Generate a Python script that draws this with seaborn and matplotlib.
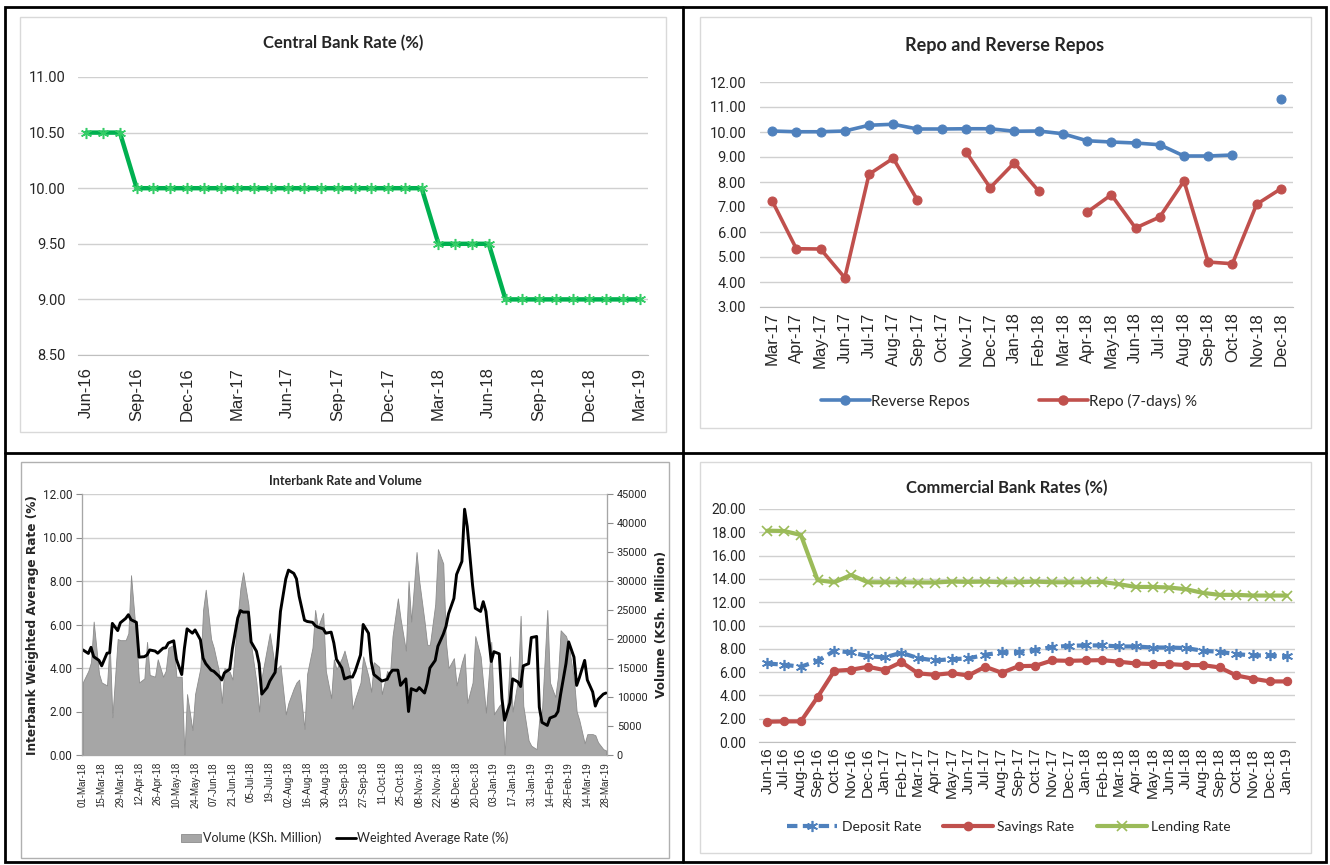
import numpy as np
import pandas as pd
import matplotlib
matplotlib.use("Agg")
import matplotlib.pyplot as plt
from matplotlib.lines import Line2D
from matplotlib.patches import Rectangle, Patch
import matplotlib.dates as mdates
import seaborn as sns

# ---------------- data ----------------
# Central Bank Rate (%), monthly Jun-16 .. Mar-19
cbr_months = pd.date_range("2016-06-01", periods=34, freq="MS").strftime("%b-%y")
cbr_rate = [10.5, 10.5, 10.5,
            10.0, 10.0, 10.0, 10.0, 10.0, 10.0, 10.0, 10.0, 10.0,
            10.0, 10.0, 10.0, 10.0, 10.0, 10.0, 10.0, 10.0, 10.0,
            9.5, 9.5, 9.5, 9.5,
            9.0, 9.0, 9.0, 9.0, 9.0, 9.0, 9.0, 9.0, 9.0]

# Repo and reverse repo, monthly Mar-17 .. Dec-18 (nan = no operation)
repo_months = pd.date_range("2017-03-01", periods=22, freq="MS").strftime("%b-%y")
reverse_repo = [10.04, 10.01, 10.01, 10.04, 10.27, 10.31, 10.12, 10.12, 10.13, 10.13, 10.03,
                10.04, 9.93, 9.65, 9.60, 9.56, 9.49, 9.04, 9.04, 9.08, np.nan, 11.32]
repo_7day = [7.25, 5.33, 5.32, 4.17, 8.31, 8.95, 7.27, np.nan, 9.21, 7.77, 8.77,
             7.64, np.nan, 6.79, 7.49, 6.16, 6.60, 8.04, 4.80, 4.73, 7.11, 7.73]

# Interbank, every second business day 01-Mar-18 .. 28-Mar-19
ib_dates = pd.bdate_range("2018-03-01", "2019-03-28")[::2]
ib_rate = [4.83, 4.67, 4.95, 4.52, 4.35, 4.10, 4.68, 4.70, 6.05, 5.72,
           6.08, 6.28, 6.45, 6.22, 6.10, 4.50, 4.52, 4.60, 4.83, 4.78,
           4.68, 4.91, 4.93, 5.15, 5.25, 4.40, 3.70, 4.90, 5.80, 5.60,
           5.75, 5.30, 4.45, 4.20, 3.90, 3.85, 3.62, 3.45, 3.78, 3.95,
           4.90, 6.30, 6.64, 6.57, 6.57, 5.20, 4.77, 4.20, 2.80, 3.10,
           3.40, 3.80, 5.00, 6.60, 8.10, 8.50, 8.35, 8.10, 7.30, 6.20,
           6.14, 6.10, 5.95, 5.88, 5.80, 5.60, 5.65, 5.15, 4.40, 4.00,
           3.50, 3.60, 3.58, 3.85, 4.60, 6.00, 5.60, 4.30, 3.70, 3.50,
           3.40, 3.48, 3.75, 3.90, 3.90, 3.20, 3.50, 2.00, 3.05, 2.95,
           3.10, 2.85, 3.30, 4.00, 4.35, 5.00, 5.55, 5.90, 6.50, 7.20,
           8.30, 8.90, 11.30, 10.50, 7.80, 6.75, 6.60, 7.05, 6.60, 4.30,
           4.75, 4.65, 2.60, 1.60, 2.40, 3.50, 3.36, 3.15, 4.10, 4.20,
           5.40, 5.45, 2.20, 1.50, 1.36, 1.70, 1.80, 2.00, 2.80, 4.20,
           5.20, 4.50, 3.20, 3.55, 4.35, 3.45, 2.90, 2.25, 2.55, 2.80,
           2.85]
ib_volume = [12600, 14500, 16000, 23000, 14000, 12500, 12000, 19500, 6500, 20000,
             19800, 19800, 21000, 31000, 20000, 12500, 13200, 19500, 13800, 13500,
             16500, 13500, 14500, 18500, 19000, 13500, 13500, 0, 10500, 4300,
             10500, 15000, 25000, 28500, 20000, 18500, 14300, 9000, 15000, 14300,
             13000, 24000, 28800, 31500, 25900, 19000, 12500, 7500, 13500, 18500,
             21000, 15000, 15000, 15500, 7000, 9000, 11500, 12500, 13000, 4500,
             14000, 18500, 25000, 22000, 24500, 14500, 9800, 16500, 14800, 16700,
             18000, 14300, 8000, 9700, 12500, 17000, 13500, 10900, 16000, 15200,
             10500, 14500, 13500, 20500, 27000, 23500, 18000, 30000, 23000, 35000,
             30000, 23000, 19000, 19000, 26000, 35500, 33000, 19500, 15000, 16700,
             12000, 16000, 17500, 9000, 12500, 20500, 17000, 12200, 7300, 19500,
             7000, 8500, 9000, 0, 17000, 7500, 13000, 24000, 8500, 2500,
             1600, 1000, 6200, 7500, 25000, 12500, 10000, 13500, 21500, 20500,
             19000, 13000, 7500, 6000, 2000, 3600, 3600, 3400, 2200, 1000,
             800]
ib_ticks = pd.date_range("2018-03-01", "2019-03-28", freq="14D")

# Commercial bank rates (%), monthly Jun-16 .. Jan-19
cb_months = pd.date_range("2016-06-01", periods=32, freq="MS").strftime("%b-%y")
deposit_rate = [6.74, 6.63, 6.46, 6.97, 7.83, 7.69, 7.37, 7.26, 7.66, 7.20, 7.00,
                7.11, 7.17, 7.49, 7.69, 7.71, 7.91, 8.14, 8.26, 8.29, 8.29, 8.20,
                8.20, 8.11, 8.11, 8.06, 7.83, 7.74, 7.54, 7.43, 7.43, 7.34]
savings_rate = [1.74, 1.77, 1.77, 3.86, 6.11, 6.20, 6.46, 6.17, 6.86, 5.89, 5.77,
                5.91, 5.71, 6.46, 5.94, 6.51, 6.54, 7.00, 6.97, 7.00, 7.03, 6.89,
                6.74, 6.69, 6.69, 6.60, 6.60, 6.40, 5.71, 5.43, 5.20, 5.20]
lending_rate = [18.14, 18.11, 17.77, 13.89, 13.71, 14.34, 13.71, 13.71, 13.71, 13.69, 13.69,
                13.77, 13.74, 13.77, 13.71, 13.71, 13.77, 13.71, 13.71, 13.71, 13.74, 13.54,
                13.31, 13.31, 13.26, 13.11, 12.80, 12.63, 12.63, 12.57, 12.57, 12.57]

# ---------------- style ----------------
sns.set_style("white")
plt.rcParams["font.family"] = ["Lato", "DejaVu Sans"]

BLUE, RED, GREEN, LGREEN = "#4F81BD", "#C0504D", "#00B050", "#9BBB59"
GRID, AXIS = "#D0D0D0", "#BFBFBF"
STAR = (6, 2, 0)
NUM_FONT = "Roboto"   # tabular digits, like the Excel original

W, H = 1330, 865
fig = plt.figure(figsize=(W / 100, H / 100), dpi=100)


def axes_px(left, top, right, bottom):
    return fig.add_axes([left / W, 1 - bottom / H, (right - left) / W, (bottom - top) / H])


def frame_px(x0, y0, x1, y1, color, lw):
    fig.add_artist(Rectangle((x0 / W, 1 - y1 / H), (x1 - x0) / W, (y1 - y0) / H,
                             transform=fig.transFigure, fill=False, ec=color, lw=lw))


def text_px(x, y, s, **kw):
    fig.text(x / W, 1 - y / H, s, ha="center", va="center", **kw)


def line_with_gaps(ax, y, **kw):
    # seaborn joins across missing values, so draw every unbroken run on its own
    s = pd.Series(y, dtype=float)
    ok = s.notna()
    for _, part in s[ok].groupby((~ok).cumsum()[ok]):
        sns.lineplot(x=part.index.to_numpy(), y=part.to_numpy(), ax=ax, **kw)


def cat_axis(ax, labels, ylim, ystep, every, tick_every, xfs, yfs, ypad, xpad):
    n = len(labels)
    ax.set_xlim(-0.5, n - 0.5)
    ax.set_ylim(*ylim)
    yt = np.arange(ylim[0], ylim[1] + 1e-9, ystep)
    ax.set_yticks(yt)
    ax.set_yticklabels([f"{v:.2f}" for v in yt], family=NUM_FONT)
    ax.set_xticks(range(0, n, every))
    ax.set_xticklabels(list(labels)[::every], rotation=90, family="Liberation Sans", fontsize=xfs)
    ax.set_xticks(np.arange(-0.5, n, tick_every), minor=True)
    ax.tick_params(axis="x", which="major", length=0, pad=xpad)
    ax.tick_params(axis="x", which="minor", length=5, width=1, color=AXIS, direction="out")
    ax.tick_params(axis="y", length=0, labelsize=yfs, pad=ypad)
    ax.grid(axis="y", color=GRID, lw=1)
    ax.set_axisbelow(True)
    for s in ["top", "right", "left"]:
        ax.spines[s].set_visible(False)
    ax.spines["bottom"].set_color(AXIS)
    ax.set_xlabel("")
    ax.set_ylabel("")


# panel borders
frame_px(5, 7, 1326, 862, "black", 2.0)
fig.add_artist(Line2D([683 / W, 683 / W], [1 - 7 / H, 1 - 862 / H], color="black", lw=2.0))
fig.add_artist(Line2D([5 / W, 1326 / W], [1 - 453 / H, 1 - 453 / H], color="black", lw=2.0))
frame_px(20, 17, 666, 432, "#D9D9D9", 1.0)
frame_px(700, 17, 1311, 428, "#D9D9D9", 1.0)
frame_px(21, 462, 669, 858, "#B0B0B0", 1.0)
frame_px(700, 462, 1311, 853, "#D9D9D9", 1.0)

# ---- Central Bank Rate ----
ax1 = axes_px(78, 77, 648, 355)
sns.lineplot(x=np.arange(len(cbr_rate)), y=cbr_rate, ax=ax1, color=GREEN, lw=3.2,
             marker=STAR, markersize=8, markeredgecolor="#33CC66", markeredgewidth=1.1)
cat_axis(ax1, cbr_months, (8.5, 11.0), 0.5, 3, 3, 12, 10.5, 9, 9)
text_px(343, 43, "Central Bank Rate (%)", fontsize=12, fontweight="bold")

# ---- Repo and Reverse Repos ----
ax2 = axes_px(760, 82, 1293, 307)
line_with_gaps(ax2, reverse_repo, color=BLUE, lw=2.6, marker="o", markersize=6.5,
               markeredgecolor=BLUE)
line_with_gaps(ax2, repo_7day, color=RED, lw=2.6, marker="o", markersize=6.5,
               markeredgecolor=RED)
cat_axis(ax2, repo_months, (3.0, 12.0), 1.0, 1, 1, 12, 10.5, 10, 4)
text_px(1005, 46, "Repo and Reverse Repos", fontsize=13, fontweight="bold")
h2 = [Line2D([], [], color=BLUE, lw=2.6, marker="o", markersize=6.5),
      Line2D([], [], color=RED, lw=2.6, marker="o", markersize=6.5)]
fig.legend(h2, ["Reverse Repos", "Repo (7-days) %"], loc="center",
           bbox_to_anchor=(1009 / W, 1 - 401 / H), ncol=2, frameon=False,
           fontsize=11, handlelength=3.2, columnspacing=4.5, handletextpad=0.1)

# ---- Interbank Rate and Volume ----
# host: rate scale + grid, twin 1: volume area, twin 2: rate line on top
axh = axes_px(82, 494, 607, 755)
axv = axh.twinx()
axl = axh.twinx()
axv.fill_between(ib_dates, ib_volume, color="#A6A6A6", ec="#8C8C8C", lw=0.6)
sns.lineplot(x=ib_dates, y=ib_rate, ax=axl, color="black", lw=2.1)

axh.set_ylim(0, 12)
axh.set_yticks(np.arange(0, 12.01, 2))
axh.set_yticklabels([f"{v:.2f}" for v in np.arange(0, 12.01, 2)], family=NUM_FONT)
axh.tick_params(axis="y", direction="out", length=4, color="#8C8C8C", labelsize=8.5, pad=3)
axh.grid(axis="y", color=GRID, lw=1)
axl.set_ylim(0, 12)
axl.yaxis.set_visible(False)
axv.set_ylim(0, 45000)
axv.set_yticks(np.arange(0, 45001, 5000))
axv.set_yticklabels([f"{v:d}" for v in range(0, 45001, 5000)], family=NUM_FONT)
axv.tick_params(axis="y", direction="out", length=4, color="#8C8C8C", labelsize=7.8, pad=3)
for a in (axh, axv, axl):
    a.set_xlim(ib_dates[0] - pd.Timedelta(hours=18), ib_dates[-1] + pd.Timedelta(hours=18))
    a.set_xlabel("")
    a.set_ylabel("")
    a.spines["top"].set_visible(False)
    for s in ("left", "right", "bottom"):
        a.spines[s].set_color("#A6A6A6")
axh.set_xticks(ib_ticks)
axh.xaxis.set_major_formatter(mdates.DateFormatter("%d-%b-%y"))
axh.tick_params(axis="x", length=0, pad=5)
for t in axh.get_xticklabels():
    t.set_rotation(90)
    t.set_fontsize(7)
    t.set_family("Liberation Sans")
text_px(345, 481, "Interbank Rate and Volume", fontsize=9, fontweight="bold")
text_px(33, 625, "Interbank Weighted Average Rate (%)", rotation=90, fontsize=8.7,
        fontweight="bold", family="DejaVu Sans")
text_px(661, 625, "Volume (KSh. Million)", rotation=90, fontsize=8.7,
        fontweight="bold", family="DejaVu Sans")
h3 = [Patch(fc="#A6A6A6", ec="#8C8C8C", lw=0.6), Line2D([], [], color="black", lw=2.0)]
fig.legend(h3, ["Volume (KSh. Million)", "Weighted Average Rate (%)"], loc="center",
           bbox_to_anchor=(345 / W, 1 - 838 / H), ncol=2, frameon=False, fontsize=9,
           handlelength=1.6, columnspacing=1.2, handletextpad=0.1)

# ---- Commercial Bank Rates ----
ax4 = axes_px(759, 509, 1295, 742)
x_cb = np.arange(len(cb_months))
DASH = (0, (2.5, 1.3))
sns.lineplot(x=x_cb, y=lending_rate, ax=ax4, color=LGREEN, lw=3.0, linestyle="-",
             marker="x", markersize=7, markeredgecolor=LGREEN, markeredgewidth=1.2)
sns.lineplot(x=x_cb, y=deposit_rate, ax=ax4, color=BLUE, lw=3.0, linestyle=DASH,
             marker=STAR, markersize=8, markeredgecolor=BLUE, markeredgewidth=1.2)
sns.lineplot(x=x_cb, y=savings_rate, ax=ax4, color=RED, lw=3.0, linestyle="-",
             marker="o", markersize=6, markeredgecolor=RED)
cat_axis(ax4, cb_months, (0.0, 20.0), 2.0, 1, 1, 11, 10, 9, 4)
text_px(1007, 488, "Commercial Bank Rates (%)", fontsize=12, fontweight="bold")
h4 = [Line2D([], [], color=BLUE, lw=3.0, linestyle=DASH, marker=STAR,
             markersize=8, markeredgewidth=1.2),
      Line2D([], [], color=RED, lw=3.0, marker="o", markersize=6),
      Line2D([], [], color=LGREEN, lw=3.0, marker="x", markersize=7, markeredgewidth=1.2)]
fig.legend(h4, ["Deposit Rate", "Savings Rate", "Lending Rate"], loc="center",
           bbox_to_anchor=(1009 / W, 1 - 827 / H), ncol=3, frameon=False, fontsize=10,
           handlelength=3.6, columnspacing=1.6, handletextpad=0.3)

fig.savefig("out.png", dpi=100)
